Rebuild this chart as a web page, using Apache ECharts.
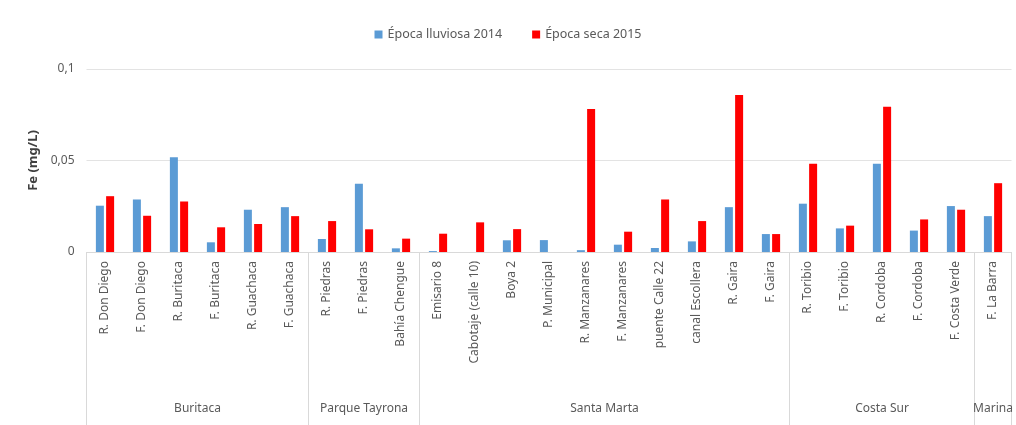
<!DOCTYPE html>
<html>
<head>
<meta charset="utf-8">
<script src="https://cdn.jsdelivr.net/npm/echarts@6/dist/echarts.min.js"></script>
<style>
html,body{margin:0;padding:0;background:#fff;}
#chart{width:1016px;height:425px;}
</style>
</head>
<body>
<div id="chart"></div>
<script>
const categories = ["R. Don Diego","F. Don Diego","R. Buritaca","F. Buritaca","R. Guachaca","F. Guachaca",
  "R. Piedras","F. Piedras","Bahía Chengue",
  "Emisario 8","Cabotaje (calle 10)","Boya 2","P. Municipal","R. Manzanares","F. Manzanares","puente Calle 22","canal Escollera","R. Gaira","F. Gaira",
  "R. Toribio","F. Toribio","R. Cordoba","F. Cordoba","F. Costa Verde",
  "F. La Barra"];
const groupNames = ["Buritaca","Parque Tayrona","Santa Marta","Costa Sur","Marina"];
const groupSizes = [6,3,10,5,1];
const seriesNames = ["Época lluviosa 2014","Época seca 2015"];
const lluviosa2014 = [0.0253,0.0287,0.0518,0.0053,0.0231,0.0245,
  0.0071,0.0373,0.0020,
  0.0005,0,0.0064,0.0065,0.0010,0.0040,0.0022,0.0058,0.0245,0.0098,
  0.0264,0.0129,0.0482,0.0117,0.0251,
  0.0196];
const seca2015 = [0.0305,0.0198,0.0276,0.0135,0.0153,0.0196,
  0.0169,0.0124,0.0073,
  0.0100,0.0162,0.0125,0,0.0782,0.0111,0.0287,0.0169,0.0858,0.0098,
  0.0482,0.0144,0.0794,0.0178,0.0231,
  0.0376];
const yTicks = [0,0.05,0.1];

// group boundaries and centres derived from group sizes
const boundaries = [0];
const centres = [];
groupSizes.forEach(function(n){
  const start = boundaries[boundaries.length-1];
  centres.push(start + n/2);
  boundaries.push(start + n);
});
const total = boundaries[boundaries.length-1];

const font = "'Noto Sans', sans-serif";
const gray = '#595959';
const chart = echarts.init(document.getElementById('chart'));
chart.setOption({
  animation:false,
  textStyle:{fontFamily:font},
  legend:{
    top:23, left:'center', itemWidth:8, itemHeight:8, itemGap:30,
    icon:'rect',
    textStyle:{color:gray, fontSize:12.5, fontFamily:font},
    data:seriesNames
  },
  grid:{left:86.5, right:4.5, top:69, bottom:173},
  xAxis:[{
    type:'category', data:categories,
    axisLine:{lineStyle:{color:'#d9d9d9'}},
    axisTick:{show:false},
    axisLabel:{rotate:90, color:gray, fontSize:12, margin:9, interval:0, fontFamily:font}
  },{
    type:'value', min:0, max:total, position:'bottom',
    axisLine:{show:false},
    splitLine:{show:false},
    axisTick:{show:true, customValues:boundaries, length:175, lineStyle:{color:'#d9d9d9'}},
    axisLabel:{customValues:centres, color:gray, fontSize:12, margin:151, fontFamily:font,
      formatter:function(v){ const i = centres.indexOf(v); return i>=0 ? groupNames[i] : ''; }}
  }],
  yAxis:{
    type:'value', min:yTicks[0], max:yTicks[yTicks.length-1], interval:yTicks[1]-yTicks[0],
    name:'Fe (mg/L)', nameLocation:'middle', nameGap:43,
    nameTextStyle:{color:'#404040', fontSize:13, fontWeight:'bold', fontFamily:font},
    axisLine:{show:false}, axisTick:{show:false},
    splitLine:{lineStyle:{color:'#e3e3e3'}},
    axisLabel:{color:gray, fontSize:12, margin:12, fontFamily:font,
      formatter:function(v){ return String(v).replace('.', ','); }}
  },
  series:[{
    name:seriesNames[0], type:'bar', data:lluviosa2014, barWidth:8, barGap:'28%',
    itemStyle:{color:'#5b9bd5'}
  },{
    name:seriesNames[1], type:'bar', data:seca2015, barWidth:8,
    itemStyle:{color:'#ff0000'}
  }]
});
</script>
</body>
</html>
